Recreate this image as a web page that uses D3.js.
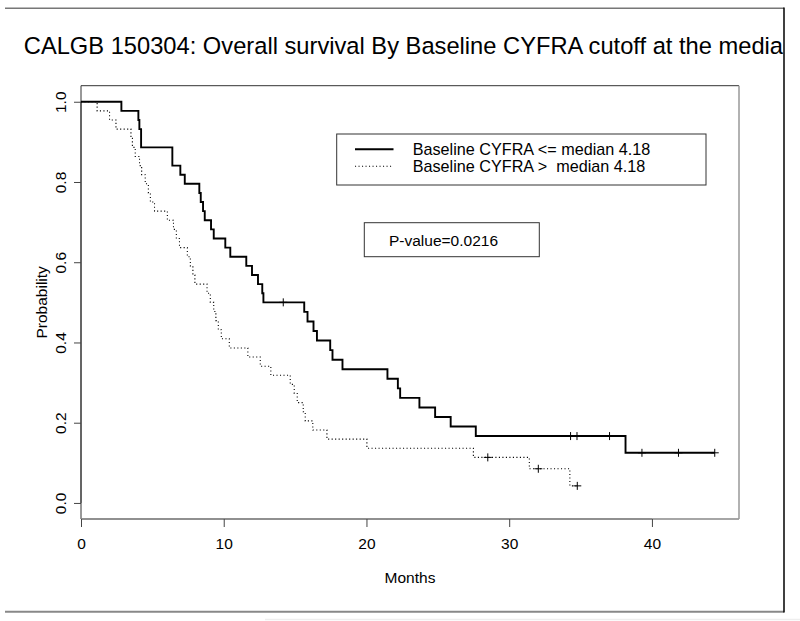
<!DOCTYPE html>
<html>
<head>
<meta charset="utf-8">
<script src="https://cdn.jsdelivr.net/npm/d3@7"></script>
<style>
  html, body { margin: 0; padding: 0; background: #fff; }
  svg { display: block; font-family: "Liberation Sans", Arial, Helvetica, sans-serif; }
</style>
</head>
<body>
<svg id="chart" width="800" height="621"></svg>
<script>
// ---- data ----
const titleText = "CALGB 150304: Overall survival By Baseline CYFRA cutoff at the median";
const xLabel = "Months";
const yLabel = "Probability";
const xTicks = [0, 10, 20, 30, 40];
const yTicks = [0.0, 0.2, 0.4, 0.6, 0.8, 1.0];
const legendLabels = ["Baseline CYFRA <= median 4.18", "Baseline CYFRA >  median 4.18"];
const pValueText = "P-value=0.0216";

// Group 1: CYFRA <= median (solid)
const lowTimes = [0, 2.83, 4.02, 4.09, 4.21, 6.40, 6.96, 7.27, 8.29, 8.39, 8.55, 8.67, 9.11, 9.30,
  10.11, 10.46, 11.58, 11.98, 12.40, 12.70, 12.78, 15.64, 15.87, 16.29, 16.53, 17.46, 17.62,
  18.32, 21.47, 22.20, 22.36, 23.71, 24.81, 25.90, 27.66, 38.15];
const lowSurv = [1, 0.9773, 0.9545, 0.9318, 0.8864, 0.8409, 0.8182, 0.7955, 0.7727, 0.75, 0.7273,
  0.7045, 0.6818, 0.6591, 0.6364, 0.6136, 0.5909, 0.5682, 0.5455, 0.5227, 0.5, 0.4762, 0.4524,
  0.4286, 0.4048, 0.3810, 0.3571, 0.3333, 0.3095, 0.2857, 0.2619, 0.2381, 0.2143, 0.1905,
  0.1667, 0.125];
const lowEnd = 44.4;
const lowCensor = [14.17, 34.30, 34.75, 37.03, 39.30, 41.86, 44.40];

// Group 2: CYFRA > median (dotted)
const highTimes = [0, 1.13, 2.00, 2.45, 3.50, 3.60, 3.80, 4.10, 4.25, 4.50, 4.72, 4.86, 5.15,
  6.05, 6.48, 6.68, 6.90, 7.45, 7.66, 7.84, 7.98, 8.83, 9.06, 9.30, 9.45, 9.62, 9.83, 10.39,
  11.69, 12.56, 13.30, 14.66, 14.94, 15.15, 15.57, 15.71, 16.24, 17.23, 20.03, 27.49, 31.41, 34.25];
const highSurv = [1, 0.9773, 0.9545, 0.9318, 0.9091, 0.8864, 0.8636, 0.8409, 0.8182, 0.7955,
  0.7727, 0.75, 0.7273, 0.7045, 0.6818, 0.6591, 0.6364, 0.6136, 0.5909, 0.5682, 0.5455, 0.5227,
  0.5, 0.4773, 0.4545, 0.4318, 0.4091, 0.3864, 0.3636, 0.3409, 0.3182, 0.2955, 0.2727, 0.25,
  0.2273, 0.2045, 0.1818, 0.1591, 0.1364, 0.1136, 0.0852, 0.0426];
const highEnd = 34.77;
const highCensor = [28.50, 32.04, 34.77];

// ---- drawing ----
const svg = d3.select("#chart");
const FONT = 15.5;

const plot = { left: 81, right: 739, top: 85.7, bottom: 519 };
const x = d3.scaleLinear().domain([0, 46.1]).range([plot.left, plot.right]);
const y = d3.scaleLinear().domain([-0.04, 1.04]).range([plot.bottom, plot.top]);

// outer frame
svg.append("line").attr("x1", 5).attr("x2", 784).attr("y1", 8.3).attr("y2", 8.3)
  .attr("stroke", "#777").attr("stroke-width", 1.5);
svg.append("line").attr("x1", 5).attr("x2", 784).attr("y1", 611.7).attr("y2", 611.7)
  .attr("stroke", "#888").attr("stroke-width", 2);
svg.append("line").attr("x1", 265).attr("x2", 800).attr("y1", 619.5).attr("y2", 619.5)
  .attr("stroke", "#eee").attr("stroke-width", 1.5);

// title (clipped at the frame line)
svg.append("clipPath").attr("id", "titleClip").append("rect")
  .attr("x", 0).attr("y", 0).attr("width", 784).attr("height", 80);
svg.append("text").attr("clip-path", "url(#titleClip)")
  .attr("x", (plot.left + plot.right) / 2).attr("y", 54)
  .attr("text-anchor", "middle").attr("font-size", 23.7).attr("fill", "#000")
  .text(titleText);

svg.append("line").attr("x1", 784).attr("x2", 784).attr("y1", 7.5).attr("y2", 612.5)
  .attr("stroke", "#000").attr("stroke-width", 1.5);

// plot box
svg.append("line").attr("x1", plot.left).attr("x2", plot.right).attr("y1", plot.top).attr("y2", plot.top)
  .attr("stroke", "#333").attr("stroke-width", 1);
svg.append("line").attr("x1", plot.left).attr("x2", plot.left).attr("y1", plot.top).attr("y2", plot.bottom)
  .attr("stroke", "#333").attr("stroke-width", 1);
svg.append("line").attr("x1", plot.left).attr("x2", plot.right).attr("y1", plot.bottom).attr("y2", plot.bottom)
  .attr("stroke", "#888").attr("stroke-width", 1.5);
svg.append("line").attr("x1", plot.right).attr("x2", plot.right).attr("y1", plot.top).attr("y2", plot.bottom)
  .attr("stroke", "#999").attr("stroke-width", 1.5);

// axes
const xAxis = d3.axisBottom(x).tickValues(xTicks).tickFormat(d3.format("d")).tickSize(8).tickPadding(11);
const gx = svg.append("g").attr("transform", `translate(0,${plot.bottom})`).call(xAxis);
gx.select(".domain").attr("stroke", "#888").attr("stroke-width", 1.5)
  .attr("d", `M${x(xTicks[0])},0H${x(xTicks[xTicks.length - 1])}`);
gx.selectAll(".tick line").attr("stroke", "#444");
gx.selectAll(".tick text").attr("font-size", FONT).attr("font-family", null).attr("fill", "#000");

const yAxis = d3.axisLeft(y).tickValues(yTicks).tickFormat(d3.format(".1f")).tickSize(7);
const gy = svg.append("g").attr("transform", `translate(${plot.left},0)`).call(yAxis);
gy.select(".domain").attr("stroke", "#333")
  .attr("d", `M0,${y(yTicks[0])}V${y(yTicks[yTicks.length - 1])}`);
gy.selectAll(".tick line").attr("stroke", "#444");
gy.selectAll(".tick text").remove();
gy.selectAll(".tick").append("text")
  .attr("transform", "translate(-15.5,0) rotate(-90)")
  .attr("text-anchor", "middle").attr("font-size", FONT).attr("font-family", null)
  .attr("fill", "#000").text(d => d3.format(".1f")(d));

// axis titles
svg.append("text").attr("x", (plot.left + plot.right) / 2).attr("y", 583)
  .attr("text-anchor", "middle").attr("font-size", FONT).text(xLabel);
svg.append("text").attr("transform", `translate(47,${(plot.top + plot.bottom) / 2}) rotate(-90)`)
  .attr("text-anchor", "middle").attr("font-size", FONT).text(yLabel);

// KM curves
function stepPoints(times, surv, end) {
  const pts = times.map((t, i) => [t, surv[i]]);
  pts.push([end, surv[surv.length - 1]]);
  return pts;
}
function survAt(times, surv, t) {
  const i = d3.bisectRight(times, t) - 1;
  return surv[Math.max(0, i)];
}
const line = d3.line().x(d => x(d[0])).y(d => y(d[1])).curve(d3.curveStepAfter);

svg.append("path").attr("d", line(stepPoints(highTimes, highSurv, highEnd)))
  .attr("fill", "none").attr("stroke", "#000").attr("stroke-width", 1.1)
  .attr("stroke-dasharray", "1.1,2.4");
svg.append("path").attr("d", line(stepPoints(lowTimes, lowSurv, lowEnd)))
  .attr("fill", "none").attr("stroke", "#000").attr("stroke-width", 1.9);

// censor marks (+)
function drawCensor(times, surv, censor) {
  const g = svg.append("g").attr("stroke", "#000").attr("stroke-width", 1);
  censor.forEach(t => {
    const cx = x(t), cy = y(survAt(times, surv, t));
    g.append("line").attr("x1", cx - 4).attr("x2", cx + 4).attr("y1", cy).attr("y2", cy);
    g.append("line").attr("x1", cx).attr("x2", cx).attr("y1", cy - 4).attr("y2", cy + 4);
  });
}
drawCensor(lowTimes, lowSurv, lowCensor);
drawCensor(highTimes, highSurv, highCensor);

// legend
const LEGEND_FONT = 16.2;
const lg = svg.append("g");
lg.append("rect").attr("x", 336.7).attr("y", 134).attr("width", 706 - 336.7).attr("height", 51)
  .attr("fill", "#fff").attr("stroke", "#333").attr("stroke-width", 1);
lg.append("line").attr("x1", 355).attr("x2", 393.5).attr("y1", 149.3).attr("y2", 149.3)
  .attr("stroke", "#000").attr("stroke-width", 1.9);
lg.append("line").attr("x1", 355).attr("x2", 393.5).attr("y1", 166.3).attr("y2", 166.3)
  .attr("stroke", "#000").attr("stroke-width", 1.1).attr("stroke-dasharray", "1.1,2.4");
legendLabels.forEach((s, i) => {
  lg.append("text").attr("x", 412.7).attr("y", 155 + i * 17).attr("font-size", LEGEND_FONT)
    .attr("xml:space", "preserve").style("white-space", "pre").text(s);
});

// p-value box
const pg = svg.append("g");
pg.append("rect").attr("x", 364.3).attr("y", 222.7).attr("width", 539.3 - 364.3).attr("height", 34)
  .attr("fill", "#fff").attr("stroke", "#333").attr("stroke-width", 1);
pg.append("text").attr("x", 389).attr("y", 245.5).attr("font-size", FONT).text(pValueText);
</script>
</body>
</html>
